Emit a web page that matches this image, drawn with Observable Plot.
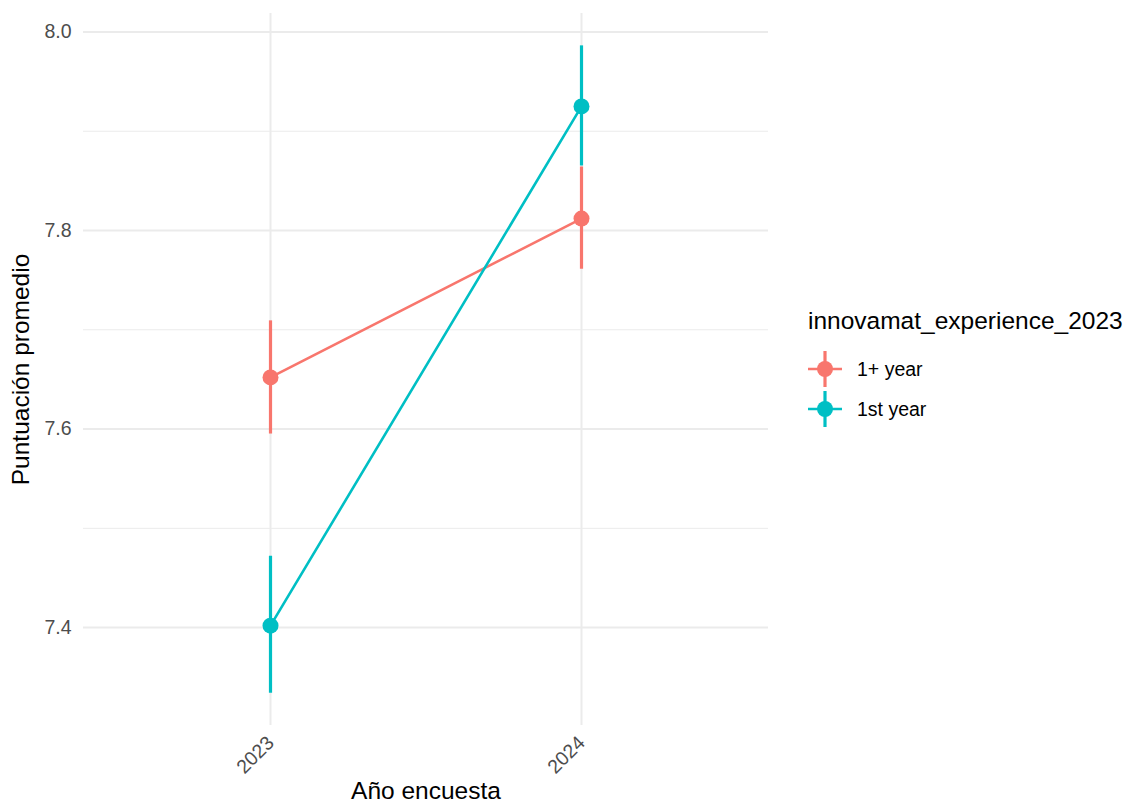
<!DOCTYPE html>
<html><head><meta charset="utf-8">
<script src="https://cdn.jsdelivr.net/npm/d3@7"></script>
<script src="https://cdn.jsdelivr.net/npm/@observablehq/plot@0.6"></script>
<style>
body{margin:0;background:#fff;font-family:"Liberation Sans",Arial,Helvetica,sans-serif;}
#wrap{position:relative;width:1130px;height:808px;overflow:hidden;}
#chart{position:absolute;left:0;top:0;}
#legend{position:absolute;left:808px;top:307px;color:#000;}
#legend .title{font-size:24.5px;line-height:28px;white-space:nowrap;}
#legend .item{display:flex;align-items:center;height:40px;font-size:19.5px;}
#legend .item svg{margin-right:15px;}
</style></head><body>
<div id="wrap"><div id="chart"></div><div id="legend"></div></div>
<script>
const years = ["2023", "2024"];
const groups = ["1+ year", "1st year"];
const colors = ["#F8766D", "#00BFC4"];
const mean1plus = [7.652, 7.812];
const low1plus = [7.595, 7.761];
const high1plus = [7.709, 7.864];
const mean1st = [7.402, 7.925];
const low1st = [7.334, 7.865];
const high1st = [7.472, 7.986];
const majorTicks = [7.4, 7.6, 7.8, 8.0];
const minorTicks = [7.5, 7.7, 7.9];
const legendTitle = "innovamat_experience_2023";
const xTitle = "Año encuesta";
const yTitle = "Puntuación promedio";

const data = [];
years.forEach((yr, i) => {
  data.push({year: yr, group: groups[0], mean: mean1plus[i], low: low1plus[i], high: high1plus[i]});
  data.push({year: yr, group: groups[1], mean: mean1st[i], low: low1st[i], high: high1st[i]});
});

const yMin = d3.min(data, d => d.low), yMax = d3.max(data, d => d.high);
const pad = (yMax - yMin) * 0.05;

const chart = Plot.plot({
  width: 775, height: 808,
  marginLeft: 83, marginRight: 7, marginTop: 13, marginBottom: 83,
  style: {fontFamily: '"Liberation Sans", Arial, Helvetica, sans-serif', background: "#fff"},
  x: {type: "point", domain: years, padding: 0.6, axis: null},
  y: {domain: [yMin - pad, yMax + pad], axis: null},
  color: {domain: groups, range: colors},
  marks: [
    Plot.ruleY(minorTicks, {stroke: "#ebebeb", strokeWidth: 1}),
    Plot.ruleY(majorTicks, {stroke: "#ebebeb", strokeWidth: 2}),
    Plot.ruleX(years, {stroke: "#ebebeb", strokeWidth: 2}),
    Plot.line(data, {x: "year", y: "mean", stroke: "group", z: "group", strokeWidth: 2.6}),
    Plot.ruleX(data, {x: "year", y1: "low", y2: "high", stroke: "group", strokeWidth: 3.2}),
    Plot.dot(data, {x: "year", y: "mean", fill: "group", r: 8, stroke: null}),
    Plot.axisY(majorTicks, {tickSize: 0, tickPadding: 12, tickFormat: d3.format(".1f"), fontSize: 19.5, color: "#4d4d4d", label: null}),
    Plot.text(years, {x: d => d, frameAnchor: "bottom", dx: 4.6, dy: 18.6, rotate: -45, textAnchor: "end", fontSize: 19.5, fill: "#4d4d4d"}),
    Plot.text([xTitle], {frameAnchor: "bottom", dy: 73, textAnchor: "middle", fontSize: 24.5, fill: "#000"}),
    Plot.text([yTitle], {frameAnchor: "left", dx: -62, rotate: -90, textAnchor: "middle", fontSize: 24.5, fill: "#000"})
  ]
});
document.getElementById("chart").appendChild(chart);

// legend
const leg = document.getElementById("legend");
const t = document.createElement("div");
t.className = "title"; t.textContent = legendTitle;
leg.appendChild(t);
const sp = document.createElement("div"); sp.style.height = "14px"; leg.appendChild(sp);
groups.forEach((g, i) => {
  const item = document.createElement("div"); item.className = "item";
  const s = d3.create("svg").attr("width", 34).attr("height", 40);
  s.append("line").attr("x1", 0).attr("x2", 34).attr("y1", 20).attr("y2", 20).attr("stroke", colors[i]).attr("stroke-width", 2.6);
  s.append("line").attr("x1", 17).attr("x2", 17).attr("y1", 2).attr("y2", 38).attr("stroke", colors[i]).attr("stroke-width", 3.2);
  s.append("circle").attr("cx", 17).attr("cy", 20).attr("r", 8).attr("fill", colors[i]);
  item.appendChild(s.node());
  const lab = document.createElement("span"); lab.textContent = g;
  item.appendChild(lab);
  leg.appendChild(item);
});
</script>
</body></html>
